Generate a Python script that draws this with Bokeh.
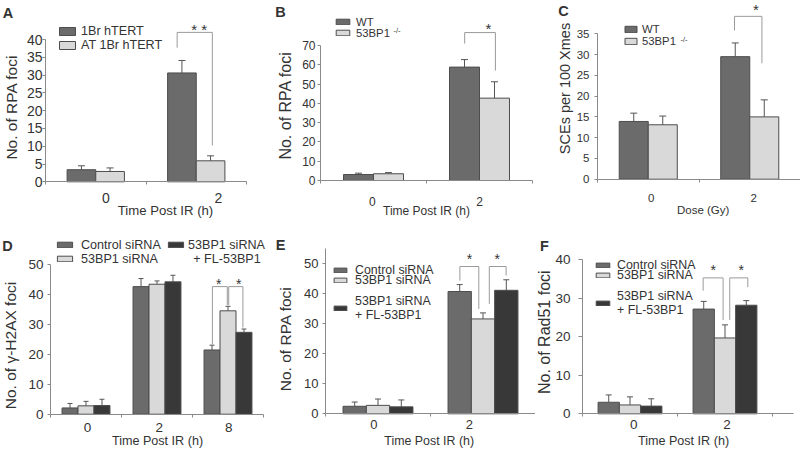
import math
import numpy as np
from bokeh.plotting import figure
from bokeh.models import (Range1d, FixedTicker, Whisker, ColumnDataSource, Legend,
                          LegendItem, Label, TeeHead, CustomJSTickFormatter)
from bokeh.layouts import row, column
from bokeh.embed import file_html
from bokeh.resources import INLINE
from bokeh.core.properties import value

# ---------------- data ----------------
A_groups = ["0", "2"]
A_series = ["1Br hTERT", "AT 1Br hTERT"]
A_means = [[3.4, 30.6], [2.9, 5.9]]
A_errors = [[1.1, 3.5], [1.0, 1.4]]
A_brackets = [[1.31, 1.66, 42.0, 37.7, 10.2]]      # x left, x right, top, left foot, right foot
A_stars = [[1.53, 43.1, "* *"]]

B_groups = ["0", "2"]
B_series = ["WT", "53BP1"]
B_means = [[3.1, 58.8], [3.5, 42.7]]
B_errors = [[0.7, 3.9], [0.6, 8.5]]
B_brackets = [[1.36, 1.65, 76.7, 71.0, 57.0]]
B_stars = [[1.585, 79.3, "*"]]

C_groups = ["0", "2"]
C_series = ["WT", "53BP1"]
C_means = [[13.9, 29.5], [13.1, 15.0]]
C_errors = [[2.0, 3.3], [2.1, 4.1]]
C_brackets = [[1.35, 1.62, 39.2, 35.8, 27.9]]
C_stars = [[1.56, 41.1, "*"]]

D_groups = ["0", "2", "8"]
D_series = ["Control siRNA", "53BP1 siRNA", "53BP1 siRNA"]
D_means = [[2.1, 42.7, 21.5], [2.8, 43.5, 34.6], [2.9, 44.3, 27.4]]
D_errors = [[1.5, 2.7, 1.6], [1.5, 1.1, 1.5], [2.1, 2.2, 1.1]]
D_brackets = [[2.28, 2.49, 42.7, 23.4, 36.5], [2.51, 2.71, 42.7, 36.5, 29.0]]
D_stars = [[2.37, 43.8, "*"], [2.65, 43.8, "*"]]

E_groups = ["0", "2"]
E_series = ["Control siRNA", "53BP1 siRNA", "53BP1 siRNA\n+ FL-53BP1"]
E_means = [[2.5, 40.6], [2.8, 31.5], [2.3, 41.0]]
E_errors = [[1.4, 2.3], [2.1, 2.0], [2.3, 3.5]]
E_brackets = [[1.28, 1.46, 48.9, 44.2, 34.8], [1.56, 1.72, 48.9, 36.5, 45.9]]
E_stars = [[1.37, 51.8, "*"], [1.635, 51.8, "*"]]

F_groups = ["0", "2"]
F_series = ["Control siRNA", "53BP1 siRNA", "53BP1 siRNA\n+ FL-53BP1"]
F_means = [[3.0, 27.2], [2.3, 19.7], [2.0, 28.2]]
F_errors = [[1.9, 2.0], [2.1, 3.4], [1.9, 1.2]]
F_brackets = [[1.27, 1.48, 35.3, 32.0, 24.4], [1.55, 1.74, 35.3, 24.4, 32.9]]
F_stars = [[1.376, 37.5, "*"], [1.67, 37.5, "*"]]

# ---------------- styling / layout ----------------
FONT = "Liberation Sans"
TXT = "#333333"
AXC = "#8a8a8a"
C_DARK, C_LIGHT, C_BLACK = "#6b6b6b", "#d9d9d9", "#383838"
EDGE = "#4d4d4d"
ERRC = "#555555"
BRC = "#9a9a9a"

COLS = [0, 266, 535, 800]
ROWS = [0, 218, 450]


def build(lay, groups, series, means, errors, colors, brackets, stars,
          ytitle, xtitle, letter, legends, notes):
    ci, ri = lay["cell"]
    cx0, cx1 = COLS[ci], COLS[ci + 1]
    cy0, cy1 = ROWS[ri], ROWS[ri + 1]
    W, H = cx1 - cx0, cy1 - cy0
    fx = lambda X: X - cx0          # page x -> px inside this panel
    fy = lambda Y: Y - cy0          # page y -> px from the panel top
    n = len(groups)
    ax0, ay0 = fx(lay["ax_x0"]), fy(lay["ax_y0"])
    unit = (fx(lay["ax_x1"]) - ax0) / n
    ppu = (ay0 - fy(lay["ytick_Y"])) / lay["ytick_val"]
    p = figure(width=W, height=H,
               x_range=Range1d(-ax0 / unit, (W - ax0) / unit),
               y_range=Range1d(-(H - ay0) / ppu, ay0 / ppu),
               output_backend="svg", toolbar_location=None,
               min_border_left=0, min_border_right=0, min_border_top=0, min_border_bottom=0)
    p.outline_line_color = None
    p.grid.visible = False
    p.background_fill_color = "white"
    p.border_fill_color = "white"

    ns = len(series)
    bw = lay["bar_w"]
    rends = []
    for i in range(ns):
        xs = np.arange(n) + 0.5 + (i - (ns - 1) / 2) * bw
        m = np.array(means[i], float)
        e = np.array(errors[i], float)
        src = ColumnDataSource(dict(x=xs, top=m, up=m + e))
        r = p.vbar(x="x", top="top", width=bw, source=src, fill_color=colors[i],
                   line_color=EDGE, line_width=1)
        p.add_layout(Whisker(source=src, base="x", lower="top", upper="up",
                             line_color=ERRC, line_width=1, lower_head=None,
                             upper_head=TeeHead(size=lay["cap"], line_color=ERRC, line_width=1)))
        rends.append(r)

    # significance brackets and stars
    p.multi_line(xs=[[b[0], b[0], b[1], b[1]] for b in brackets],
                 ys=[[b[3], b[2], b[2], b[4]] for b in brackets],
                 line_color=BRC, line_width=1)
    sfs = lay["star_fs"]
    p.text(x=[s[0] for s in stars], y=[s[1] - 1.0 / ppu for s in stars],
           text=[s[2] for s in stars], text_font=value(FONT), text_font_size=f"{sfs}px",
           text_align="center", text_baseline="alphabetic", text_color=TXT)

    # y axis, drawn at x = 0
    ya = p.yaxis[0]
    ya.fixed_location = 0
    ya.bounds = (0, lay["ybound"])
    ya.ticker = FixedTicker(ticks=list(range(0, lay["ytick_val"] + 1, lay["ystep"])), minor_ticks=[])
    ya.minor_tick_line_color = None
    ya.major_tick_in = 0
    ya.major_tick_out = lay["ytick_out"]
    ya.axis_line_color = AXC
    ya.major_tick_line_color = AXC
    ya.major_label_text_font = FONT
    ya.major_label_text_font_size = f"{lay['tick_fs']}px"
    ya.major_label_text_color = TXT
    ya.major_label_standoff = lay["ys1"]

    # x axis, drawn at y = 0
    xa = p.xaxis[0]
    xa.fixed_location = 0
    xa.bounds = (0, lay["x_end"])
    xa.ticker = FixedTicker(ticks=lay["lab_pos"], minor_ticks=list(range(0, n + 1)))
    xa.formatter = CustomJSTickFormatter(args=dict(labels=groups), code="return labels[index];")
    xa.major_tick_line_color = None
    xa.major_tick_in = 0
    xa.major_tick_out = 0
    xa.minor_tick_in = 0
    xa.minor_tick_out = 3
    xa.minor_tick_line_color = AXC
    xa.axis_line_color = AXC
    xa.major_label_text_font = FONT
    xa.major_label_text_font_size = f"{lay['tick_fs']}px"
    xa.major_label_text_color = TXT
    xa.major_label_standoff = lay["xs1"]

    # axis titles, placed where the reference shows them
    X, Y = lay["ytitle_at"]
    p.add_layout(Label(x=fx(X), y=H - fy(Y), x_units="screen", y_units="screen", angle=math.pi / 2,
                       text=ytitle, text_font=FONT, text_font_size=f"{lay['ytitle_fs']}px",
                       text_color=TXT, text_align="center", text_baseline="middle"))
    X, Y = lay["xtitle_at"]
    p.add_layout(Label(x=fx(X), y=H - fy(Y), x_units="screen", y_units="screen",
                       text=xtitle, text_font=FONT, text_font_size=f"{lay['xtitle_fs']}px",
                       text_color=TXT, text_align="center", text_baseline="middle"))

    # legends: one per entry, placed at the reference position
    for lg in legends:
        GW = max(2, round(lg["w"] / 0.8))
        GH = max(2, round(lg["h"] / 0.8))
        nl = lg["label"].count("\n") + 1
        lh = lg.get("lh", 1.2)
        R = math.ceil(lg["fs"] * (1.5 + lh * (nl - 1)))
        gl = fx(lg["x"]) - 0.1 * GW
        so = round(fx(lg["tx"]) - (gl + GW))
        leg = Legend(items=[LegendItem(label=lg["label"], renderers=[rends[lg["s"]]])],
                     location=(round(gl), round(H - (fy(lg["cy"]) + R / 2))), orientation="vertical",
                     padding=0, margin=0, spacing=0, glyph_width=GW, glyph_height=GH,
                     label_height=R, label_width=10, label_standoff=so,
                     label_text_font=FONT, label_text_font_size=f"{lg['fs']}px",
                     label_text_color=TXT, label_text_line_height=lh,
                     border_line_color=None, background_fill_alpha=0)
        p.add_layout(leg)

    # panel letter and extra notes
    for nt in [letter] + notes:
        p.add_layout(Label(x=fx(nt["X"]), y=H - fy(nt["Y"]), x_units="screen", y_units="screen",
                           text=nt["text"], text_font=FONT, text_font_size=f"{nt['fs']}px",
                           text_font_style=nt.get("style", "normal"), text_color=TXT,
                           text_align=nt.get("align", "center"), text_baseline="middle"))
    return p


LA = dict(cell=(0, 0), ax_x0=45, ax_x1=246, x_end=2.0, ax_y0=181.3, ytick_Y=39.0, ytick_val=40,
          ybound=40, ystep=5, lab_pos=[0.60, 1.72], bar_w=0.285, cap=7, star_fs=15,
          ytick_out=3, tick_fs=14, ys1=0, xs1=8,
          ytitle_at=(10.5, 106.7), ytitle_fs=15.5, xtitle_at=(165, 210), xtitle_fs=13.2)
LB = dict(cell=(1, 0), ax_x0=320, ax_x1=532, x_end=2.0, ax_y0=180.0, ytick_Y=45.0, ytick_val=70,
          ybound=70, ystep=10, lab_pos=[0.49, 1.50], bar_w=0.283, cap=7, star_fs=15,
          ytick_out=3, tick_fs=12, ys1=2, xs1=13,
          ytitle_at=(284.5, 105), ytitle_fs=16, xtitle_at=(426, 210), xtitle_fs=12)
LC = dict(cell=(2, 0), ax_x0=597, ax_x1=800, x_end=2.0, ax_y0=178.7, ytick_Y=33.3, ytick_val=35,
          ybound=35, ystep=5, lab_pos=[0.53, 1.54], bar_w=0.286, cap=7, star_fs=15,
          ytick_out=3, tick_fs=11.5, ys1=5, xs1=12,
          ytitle_at=(564.5, 88), ytitle_fs=14.5, xtitle_at=(702.7, 209.3), xtitle_fs=11.5)
LD = dict(cell=(0, 1), ax_x0=50, ax_x1=263, x_end=3.0, ax_y0=413.7, ytick_Y=264.3, ytick_val=50,
          ybound=50, ystep=10, lab_pos=[0.52, 1.53, 2.51], bar_w=0.225, cap=5, star_fs=14,
          ytick_out=3, tick_fs=13.5, ys1=4, xs1=6,
          ytitle_at=(9.5, 345), ytitle_fs=15.5, xtitle_at=(157, 440), xtitle_fs=12.6)
LE = dict(cell=(1, 1), ax_x0=325, ax_x1=535, x_end=2.0, ax_y0=413.3, ytick_Y=262.7, ytick_val=50,
          ybound=55, ystep=10, lab_pos=[0.46, 1.37], bar_w=0.222, cap=6, star_fs=14,
          ytick_out=3, tick_fs=13, ys1=4, xs1=3,
          ytitle_at=(284.5, 338.3), ytitle_fs=15.5, xtitle_at=(428.7, 440), xtitle_fs=12.4)
LF = dict(cell=(2, 1), ax_x0=582, ax_x1=772, x_end=2.22, ax_y0=413.3, ytick_Y=259.3, ytick_val=40,
          ybound=40, ystep=10, lab_pos=[0.54, 1.52], bar_w=0.224, cap=6, star_fs=14,
          ytick_out=4, tick_fs=13.5, ys1=8, xs1=3,
          ytitle_at=(544, 331.7), ytitle_fs=16, xtitle_at=(683, 440), xtitle_fs=12.6)

pA = build(LA, A_groups, A_series, A_means, A_errors, [C_DARK, C_LIGHT], A_brackets, A_stars,
           "No. of RPA foci", "Time Post IR (h)",
           dict(text="A", X=7.5, Y=12, fs=14.5, style="bold"),
           [dict(s=0, label=A_series[0], x=59.3, w=15.7, h=8, cy=30.7, tx=81, fs=12.6),
            dict(s=1, label=A_series[1], x=59.3, w=15.7, h=8, cy=44.2, tx=81, fs=12.6)],
           [])
pB = build(LB, B_groups, B_series, B_means, B_errors, [C_DARK, C_LIGHT], B_brackets, B_stars,
           "No. of RPA foci", "Time Post IR (h)",
           dict(text="B", X=280, Y=11, fs=14.5, style="bold"),
           [dict(s=0, label=B_series[0], x=336, w=13.3, h=5.5, cy=21.5, tx=356, fs=11.3),
            dict(s=1, label=B_series[1], x=336, w=13.3, h=5.5, cy=32.5, tx=356, fs=11.3)],
           [dict(text="-/-", X=393, Y=30, fs=7.5, align="left")])
pC = build(LC, C_groups, C_series, C_means, C_errors, [C_DARK, C_LIGHT], C_brackets, C_stars,
           "SCEs per 100 Xmes", "Dose (Gy)",
           dict(text="C", X=563, Y=10.5, fs=14.5, style="bold"),
           [dict(s=0, label=C_series[0], x=625, w=11.7, h=6.7, cy=28.3, tx=642, fs=11.3),
            dict(s=1, label=C_series[1], x=625, w=11.7, h=6.7, cy=40.7, tx=642, fs=11.3)],
           [dict(text="-/-", X=680, Y=38.5, fs=7.5, align="left")])
pD = build(LD, D_groups, D_series, D_means, D_errors, [C_DARK, C_LIGHT, C_BLACK], D_brackets, D_stars,
           "No. of γ-H2AX foci", "Time Post IR (h)",
           dict(text="D", X=7, Y=245, fs=14.5, style="bold"),
           [dict(s=0, label=D_series[0], x=57.3, w=15.3, h=5.5, cy=245, tx=81, fs=12.6),
            dict(s=1, label=D_series[1], x=57.3, w=15.3, h=5.5, cy=258.5, tx=81, fs=12.6),
            dict(s=2, label=D_series[2], x=168.3, w=15, h=5.5, cy=245, tx=188.3, fs=12.6)],
           [dict(text="+ FL-53BP1", X=192.7, Y=258.5, fs=12.6, align="left")])
pE = build(LE, E_groups, E_series, E_means, E_errors, [C_DARK, C_LIGHT, C_BLACK], E_brackets, E_stars,
           "No. of RPA foci", "Time Post IR (h)",
           dict(text="E", X=280, Y=244.7, fs=14.5, style="bold"),
           [dict(s=0, label=E_series[0], x=333.3, w=12.4, h=5, cy=269.2, tx=354.3, fs=12.4),
            dict(s=1, label=E_series[1], x=333.3, w=12.4, h=5, cy=279.4, tx=354.3, fs=12.4),
            dict(s=2, label=E_series[2], x=333.3, w=12.4, h=5, cy=307.5, tx=354.3, fs=12.4, lh=1.45)],
           [])
pF = build(LF, F_groups, F_series, F_means, F_errors, [C_DARK, C_LIGHT, C_BLACK], F_brackets, F_stars,
           "No. of Rad51 foci", "Time Post IR (h)",
           dict(text="F", X=544, Y=245.5, fs=14.5, style="bold"),
           [dict(s=0, label=F_series[0], x=596, w=13.3, h=5, cy=264.2, tx=617.3, fs=12.4),
            dict(s=1, label=F_series[1], x=596, w=13.3, h=5, cy=274.7, tx=617.3, fs=12.4),
            dict(s=2, label=F_series[2], x=596, w=13.3, h=5, cy=302.8, tx=617.3, fs=12.4, lh=1.45)],
           [])

layout = column(row(pA, pB, pC), row(pD, pE, pF))
open("out.html", "w").write(file_html(layout, INLINE))
